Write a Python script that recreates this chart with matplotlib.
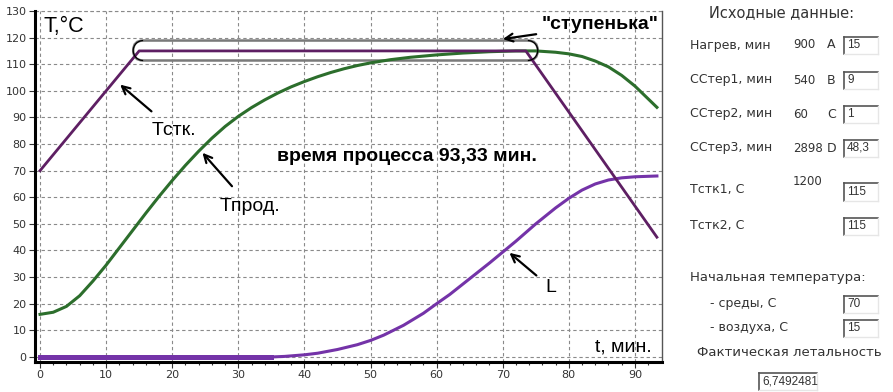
import numpy as np
import matplotlib
matplotlib.use('Agg')
import matplotlib.pyplot as plt
from matplotlib.patches import FancyBboxPatch, Arc
from matplotlib.lines import Line2D

plt.rcParams['font.family'] = ['Liberation Sans', 'DejaVu Sans']

# --- data ---
t_stk = [0, 15, 73.5, 93.33]
v_stk = [70, 115, 115, 45]

t_prod = [0, 2, 4, 6, 8, 10, 12, 14, 16, 18, 20, 22, 24, 26, 28, 30, 32, 34, 36, 38, 40,
          42, 44, 46, 48, 50, 53, 56, 60, 64, 68, 72, 75, 78, 80, 82, 84, 86, 88, 90, 92, 93.33]
v_prod = [16, 16.8, 19, 23, 28.5, 34.5, 41, 47.5, 54, 60.3, 66.3, 72, 77.3, 82.2, 86.6,
          90.4, 93.7, 96.6, 99.2, 101.5, 103.5, 105.3, 106.9, 108.3, 109.5, 110.5, 111.7,
          112.6, 113.5, 114.2, 114.7, 115, 115, 114.5, 113.9, 112.9, 111.2, 109, 105.8,
          101.8, 97, 93.8]

t_L = [0, 35, 37, 40, 42, 45, 48, 50, 52, 55, 58, 60, 62, 65, 68, 70, 72, 75, 78, 80,
       82, 84, 86, 88, 90, 93.33]
v_L = [0, 0, 0.2, 0.8, 1.4, 2.8, 4.6, 6.2, 8.2, 11.9, 16.4, 20, 23.5, 29.4, 35.3, 39.4,
       43.5, 50, 56, 59.6, 62.7, 65, 66.5, 67.3, 67.7, 68]

xticks = list(range(0, 100, 10))
yticks = list(range(0, 140, 10))

params = [('Нагрев, мин', '900', 'A', '15'),
          ('ССтер1, мин', '540', 'B', '9'),
          ('ССтер2, мин', '60', 'C', '1'),
          ('ССтер3, мин', '2898', 'D', '48,3')]

W, H = 893, 392
fig = plt.figure(figsize=(W / 100, H / 100), dpi=100)
ax = fig.add_axes([35 / W, (H - 362) / H, (662 - 35) / W, (362 - 11) / H])

c_stk = '#5e1f63'
c_prod = '#2c6e2c'
c_L = '#7433a8'

ax.plot(t_prod, v_prod, color=c_prod, lw=2.2, zorder=3)
ax.plot(t_stk, v_stk, color=c_stk, lw=2.0, zorder=4)
ax.plot(t_L, v_L, color=c_L, lw=2.2, zorder=3)
ax.plot(t_L[:2], v_L[:2], color=c_L, lw=3.6, zorder=3)

ax.set_xlim(-0.76, 94.1)
ax.set_ylim(-1.9, 130)
ax.set_xticks(xticks)
ax.set_yticks(yticks)
ax.set_xticks(np.arange(0, 94, 2), minor=True)
ax.grid(True, which='major', color='#8a8a8a', ls=(0, (3, 2.5)), lw=0.8)
ax.axhline(130, color='#8a8a8a', ls=(0, (3, 2.5)), lw=0.8, clip_on=False)
ax.tick_params(axis='both', which='major', length=4, width=0.8, labelsize=8,
               colors='#333333', pad=2)
ax.tick_params(axis='x', which='minor', length=2, width=0.8, color='#333333')
for lab in ax.get_xticklabels() + ax.get_yticklabels():
    lab.set_family('DejaVu Sans')
ax.spines['top'].set_visible(False)
ax.spines['left'].set_linewidth(2.2)
ax.spines['bottom'].set_linewidth(2.2)
ax.spines['right'].set_linewidth(1.0)
ax.spines['right'].set_color('#555555')

# "ступенька" box
x0, x1, y0, y1 = 14.1, 75.3, 111.4, 118.9
ax.add_patch(FancyBboxPatch((x0, y0), x1 - x0, y1 - y0,
                            boxstyle='round,pad=0,rounding_size=1.5',
                            mutation_aspect=2.48, fill=False, ec='#7a7a7a', lw=1.8, zorder=2))
ym = (y0 + y1) / 2
ax.add_patch(Arc((x0 + 1.5, ym), 3.0, y1 - y0, theta1=90, theta2=270, color='black', lw=0.9, zorder=5))
ax.add_patch(Arc((x1 - 1.5, ym), 3.0, y1 - y0, theta1=-90, theta2=90, color='black', lw=0.9, zorder=5))

arrow = dict(arrowstyle='->', color='black', lw=1.6, mutation_scale=14)
ax.annotate('"ступенька"', xy=(69.6, 119.3), xytext=(75.9, 124.8), fontsize=14,
            fontweight='bold', ha='left', va='center', arrowprops=arrow)
ax.annotate('Tстк.', xy=(11.8, 103), xytext=(20.3, 85), fontsize=14,
            ha='center', va='center', arrowprops=dict(arrow, shrinkA=9))
ax.annotate('Tпрод.', xy=(24.3, 77.5), xytext=(31.8, 56.4), fontsize=14,
            ha='center', va='center', arrowprops=dict(arrow, shrinkA=9))
ax.annotate('L', xy=(70.7, 39.8), xytext=(77.3, 26), fontsize=14,
            ha='center', va='center', arrowprops=dict(arrow, shrinkA=6))
ax.text(55.5, 75.5, 'время процесса 93,33 мин.', fontsize=14, fontweight='bold',
        ha='center', va='center')
ax.text(0.6, 124, 'T,°C', fontsize=15.5, ha='left', va='center')
ax.text(92.5, 3.8, 't, мин.', fontsize=14, ha='right', va='center')

# right panel
tc = '#333333'


def ftext(x, y, s, size=9, ha='left'):
    fig.text(x / W, 1 - y / H, s, fontsize=size, color=tc, ha=ha, va='center',
             family='DejaVu Sans')


def fbox(x, y, w, s, h=17):
    top = 1 - (y - h / 2) / H
    bot = 1 - (y + h / 2) / H
    fig.add_artist(Line2D([x / W, x / W], [bot, top], color='#555555', lw=1.2))
    fig.add_artist(Line2D([x / W, (x + w) / W], [top, top], color='#555555', lw=1.2))
    fig.add_artist(Line2D([x / W, (x + w) / W], [bot, bot], color='#e6e6e6', lw=1))
    fig.add_artist(Line2D([(x + w) / W, (x + w) / W], [bot, top], color='#e6e6e6', lw=1))
    fig.text((x + 3) / W, 1 - y / H, s, fontsize=8.5, color=tc, ha='left', va='center')


ftext(782, 13, 'Исходные данные:', size=10.5, ha='center')
for i, (name, num, letter, val) in enumerate(params):
    yy = [45, 80, 114, 148][i]
    ftext(690, yy, name)
    ftext(793, yy, num, size=8.5)
    ftext(827, yy, letter)
    fbox(844, yy, 34, val)

ftext(690, 190, 'Тстк1, С')
ftext(793, 181, '1200', size=8.5)
fbox(844, 192, 34, '115')
ftext(690, 225, 'Тстк2, С')
fbox(844, 226, 34, '115')
ftext(690, 278, 'Начальная температура:', size=9.5)
ftext(710, 303, '- среды, С')
fbox(844, 304, 34, '70')
ftext(710, 327, '- воздуха, С')
fbox(844, 328, 34, '15')
ftext(789, 353, 'Фактическая летальность', size=9.5, ha='center')
fbox(759, 381, 58, '6,7492481')

fig.savefig('out.png', dpi=100)
